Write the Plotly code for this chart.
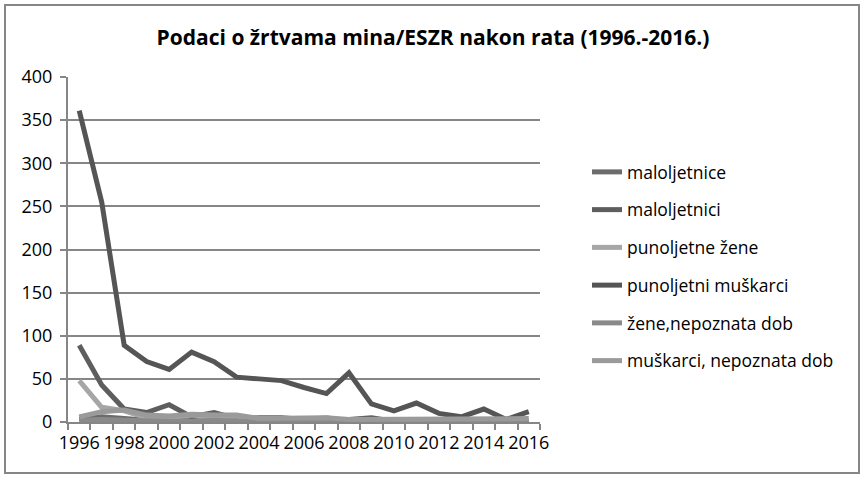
import plotly.graph_objects as go

years = list(range(1996, 2017))
tick_years = [y for y in years if y % 2 == 0]

series_names = [
    "maloljetnice",
    "maloljetnici",
    "punoljetne žene",
    "punoljetni muškarci",
    "žene,nepoznata dob",
    "muškarci, nepoznata dob",
]
maloljetnice = [3, 6, 4, 2, 2, 1, 1, 1, 1, 1, 0, 0, 1, 0, 0, 0, 1, 0, 0, 0, 0]
maloljetnici = [89, 43, 15, 11, 20, 6, 11, 4, 5, 5, 3, 1, 3, 5, 1, 1, 2, 1, 2, 1, 1]
punoljetne_zene = [48, 17, 13, 5, 5, 8, 6, 7, 2, 2, 3, 5, 1, 1, 1, 1, 1, 1, 1, 0, 1]
punoljetni_muskarci = [361, 255, 89, 70, 61, 81, 70, 52, 50, 48, 40, 33, 57, 21, 13, 22, 10, 6, 15, 3, 12]
zene_nepoznata = [2, 3, 2, 1, 1, 1, 2, 1, 1, 0, 1, 1, 0, 0, 0, 0, 0, 0, 0, 0, 0]
muskarci_nepoznata = [6, 12, 14, 8, 7, 9, 8, 8, 4, 4, 4, 5, 3, 3, 3, 3, 3, 3, 3, 3, 4]

values = [maloljetnice, maloljetnici, punoljetne_zene, punoljetni_muskarci,
          zene_nepoznata, muskarci_nepoznata]
colors = ["#6c6c6c", "#5e5e5e", "#a6a6a6", "#555555", "#8a8a8a", "#9a9a9a"]

FONT = "'Open Sans', sans-serif"

fig = go.Figure()
for i, (name, vals, col) in enumerate(zip(series_names, values, colors)):
    fig.add_trace(go.Scatter(
        x=years, y=vals, name=name, mode="lines",
        line=dict(color=col, width=5),
        legendgroup=str(i),
    ))

W, H = 863, 477
L, R, T, B = 68, 323, 77, 55
pw = W - L - R
ph = H - T - B

def px_x(p):
    return (p - L) / pw

def px_y(p):
    return 1 - (p - T) / ph

fig.update_layout(
    width=W, height=H,
    margin=dict(l=L, r=R, t=T, b=B, pad=0),
    paper_bgcolor="white", plot_bgcolor="white",
    font=dict(family=FONT, color="#000000", size=17.5),
    title=dict(
        text="<b>Podaci o žrtvama mina/ESZR nakon rata (1996.-2016.)</b>",
        x=433 / W, xanchor="center", y=1 - 38 / H, yanchor="middle",
        font=dict(family=FONT, size=21, color="#000000"),
    ),
    legend=dict(
        x=px_x(587), xanchor="left", y=px_y(154), yanchor="top",
        font=dict(family=FONT, size=17.5, color="#000000"),
        traceorder="grouped", tracegroupgap=12,
        bgcolor="rgba(0,0,0,0)", itemwidth=30,
    ),
    xaxis=dict(
        range=[1995.5, 2016.5],
        tickmode="array", tickvals=tick_years, ticktext=[str(y) for y in tick_years],
        ticks="", showgrid=False,
        showline=True, linecolor="#868686", linewidth=2,
        tickfont=dict(family=FONT, size=18, color="#000000"),
        ticklabelstandoff=3,
        minor=dict(tickmode="linear", tick0=1995.5, dtick=1, ticks="outside",
                   ticklen=6, tickwidth=2, tickcolor="#868686", showgrid=False),
        zeroline=False,
    ),
    yaxis=dict(
        range=[0, 400], dtick=50,
        showgrid=True, gridcolor="#868686", gridwidth=2,
        ticks="outside", ticklen=6, tickwidth=2, tickcolor="#868686",
        showline=True, linecolor="#868686", linewidth=2,
        tickfont=dict(family=FONT, size=18, color="#000000"),
        ticklabelstandoff=4,
        zeroline=False,
    ),
    shapes=[dict(
        type="rect", xref="paper", yref="paper",
        x0=px_x(5), x1=px_x(859), y0=px_y(473), y1=px_y(5),
        line=dict(color="#868686", width=2), fillcolor="rgba(0,0,0,0)",
        layer="below",
    )],
)

fig.write_html("out.html", config={"displayModeBar": False},
               post_script="document.body.style.margin='0';")
